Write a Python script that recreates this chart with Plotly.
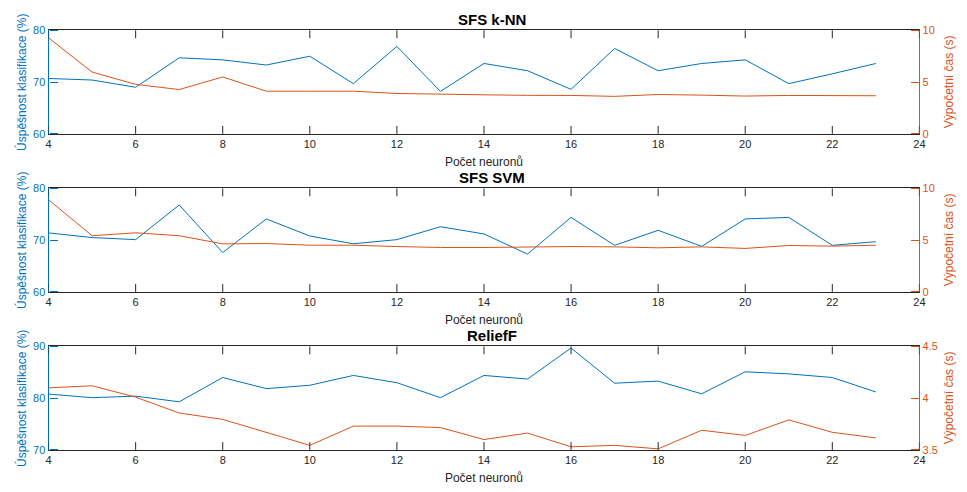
import plotly.graph_objects as go

# Number of neurons in the hidden layer
neurons = [4, 5, 6, 7, 8, 9, 10, 11, 12, 13, 14, 15, 16, 17, 18, 19, 20, 21, 22, 23]

# SFS k-NN
knn_acc = [70.7, 70.4, 69.0, 74.7, 74.3, 73.3, 75.0, 69.7, 76.9, 68.2, 73.6,
           72.2, 68.6, 76.5, 72.2, 73.6, 74.3, 69.7, 71.6, 73.6]
knn_time = [9.28, 5.97, 4.78, 4.28, 5.50, 4.12, 4.12, 4.12, 3.90, 3.80, 3.77,
            3.72, 3.71, 3.62, 3.80, 3.74, 3.65, 3.71, 3.68, 3.68]

# SFS SVM
svm_acc = [71.4, 70.5, 70.1, 76.8, 67.6, 74.1, 70.8, 69.3, 70.1, 72.6, 71.2,
           67.3, 74.4, 69.0, 71.9, 68.8, 74.1, 74.4, 69.0, 69.7]
svm_time = [8.90, 5.43, 5.71, 5.43, 4.64, 4.67, 4.51, 4.51, 4.38, 4.29, 4.29,
            4.35, 4.38, 4.35, 4.26, 4.35, 4.20, 4.48, 4.42, 4.51]

# ReliefF
relief_acc = [80.8, 80.1, 80.4, 79.3, 84.0, 81.85, 82.5, 84.4, 83.0, 80.1, 84.4,
              83.7, 89.7, 82.9, 83.3, 80.85, 85.1, 84.7, 84.0, 81.2]
relief_time = [4.10, 4.12, 4.01, 3.857, 3.795, 3.67, 3.544, 3.73, 3.73, 3.716, 3.60,
               3.663, 3.53, 3.544, 3.51, 3.69, 3.64, 3.79, 3.67, 3.616]

titles = ["SFS k-NN", "SFS SVM", "ReliefF"]
acc_ranges = [[60, 80], [60, 80], [70, 90]]
acc_ticks = [[60, 70, 80], [60, 70, 80], [70, 80, 90]]
time_ranges = [[0, 10], [0, 10], [3.5, 4.5]]
time_ticks = [[0, 5, 10], [0, 5, 10], [3.5, 4, 4.5]]
x_ticks = [4, 6, 8, 10, 12, 14, 16, 18, 20, 22, 24]

acc_series = [knn_acc, svm_acc, relief_acc]
time_series = [knn_time, svm_time, relief_time]

BLUE = "#0072BD"
ORANGE = "#D95319"
DARK = "#262626"
FONT = "Liberation Sans, Arial, sans-serif"
TICKLEN = 8

W, H = 967, 492
# panel extents in pixels (top, bottom)
panels = [(25, 131), (187, 293), (349, 455)]
x_left, x_right = 46, 925

fig = go.Figure()
layout = dict(
    width=W, height=H,
    margin=dict(l=0, r=0, t=0, b=0),
    paper_bgcolor="white", plot_bgcolor="white",
    showlegend=False,
    font=dict(family=FONT, size=11, color=DARK),
    annotations=[],
    shapes=[],
)


def tick_axis(**kw):
    """Label-less y axis used only to draw tick marks pointing into a panel."""
    base = dict(showticklabels=False, showline=False, ticks="outside",
                ticklen=TICKLEN, tickwidth=1, showgrid=False,
                zeroline=False, anchor="free")
    base.update(kw)
    return base


def axname(prefix, n):
    return prefix if n == 1 else f"{prefix}{n}"


for i in range(3):
    top, bot = panels[i]
    ydom = [1 - bot / H, 1 - top / H]
    xdom = [x_left / W, x_right / W]

    # one x axis and four y axes per panel
    xm = i + 1
    yl, yr, ylt, yrt = 4 * i + 1, 4 * i + 2, 4 * i + 3, 4 * i + 4
    xmn = axname("x", xm)
    yln = axname("y", yl)

    fig.add_trace(go.Scatter(x=neurons, y=acc_series[i], mode="lines",
                             line=dict(color=BLUE, width=1),
                             xaxis=xmn, yaxis=yln))
    fig.add_trace(go.Scatter(x=neurons, y=time_series[i], mode="lines",
                             line=dict(color=ORANGE, width=1),
                             xaxis=xmn, yaxis=axname("y", yr)))
    # empty traces so the y tick-mark axes get drawn
    for ya in (ylt, yrt):
        fig.add_trace(go.Scatter(x=[None], y=[None], mode="lines",
                                 hoverinfo="skip",
                                 xaxis=xmn, yaxis=axname("y", ya)))

    layout[axname("xaxis", xm)] = dict(
        domain=xdom, anchor=yln, range=[4, 24], tickvals=x_ticks,
        showline=True, linecolor=DARK, linewidth=1, mirror=True,
        ticks="", showgrid=False, zeroline=False,
        tickfont=dict(family=FONT, size=11, color=DARK),
        title=dict(text="Počet neuronů", standoff=8,
                   font=dict(family=FONT, size=12, color=DARK)),
    )

    # inward x tick marks on the bottom and top edges of the box
    frac = TICKLEN / (bot - top)
    for xv in x_ticks:
        for y0, y1 in ((0, frac), (1 - frac, 1)):
            layout["shapes"].append(dict(
                type="line", xref=xmn, yref=f"{yln} domain",
                x0=xv, x1=xv, y0=y0, y1=y1, layer="above",
                line=dict(color=DARK, width=1)))

    layout[axname("yaxis", yl)] = dict(
        domain=ydom, anchor=xmn, range=acc_ranges[i], tickvals=acc_ticks[i],
        side="left", showline=True, linecolor=BLUE, linewidth=1,
        ticks="", showgrid=False, zeroline=False,
        tickfont=dict(family=FONT, size=11, color=BLUE),
    )
    layout[axname("yaxis", yr)] = dict(
        domain=ydom, anchor=xmn, overlaying=yln, range=time_ranges[i],
        tickvals=time_ticks[i],
        side="right", showline=True, linecolor=ORANGE, linewidth=1,
        ticks="", showgrid=False, zeroline=False,
        tickfont=dict(family=FONT, size=11, color=ORANGE),
    )
    # left ticks pointing right, right ticks pointing left
    layout[axname("yaxis", ylt)] = tick_axis(
        overlaying=yln, side="right", position=xdom[0],
        range=acc_ranges[i], tickvals=acc_ticks[i], tickcolor=BLUE)
    layout[axname("yaxis", yrt)] = tick_axis(
        overlaying=yln, side="left", position=xdom[1],
        range=time_ranges[i], tickvals=time_ticks[i], tickcolor=ORANGE)

    ymid = 1 - (top + bot) / 2 / H
    layout["annotations"] += [
        dict(text=f"<b>{titles[i]}</b>", xref="paper", yref="paper",
             x=494 / W, y=1 - (top - 11.5) / H,
             xanchor="center", yanchor="middle", showarrow=False,
             font=dict(family=FONT, size=15, color="black")),
        dict(text="Úspěšnost klasifikace (%)", xref="paper", yref="paper",
             x=18 / W, y=ymid, textangle=-90,
             xanchor="center", yanchor="middle", showarrow=False,
             font=dict(family=FONT, size=12, color=BLUE)),
        dict(text="Výpočetní čas (s)", xref="paper", yref="paper",
             x=955 / W, y=ymid, textangle=-90,
             xanchor="center", yanchor="middle", showarrow=False,
             font=dict(family=FONT, size=12, color=ORANGE)),
    ]

fig.update_layout(**layout)
fig.write_html("out.html")
